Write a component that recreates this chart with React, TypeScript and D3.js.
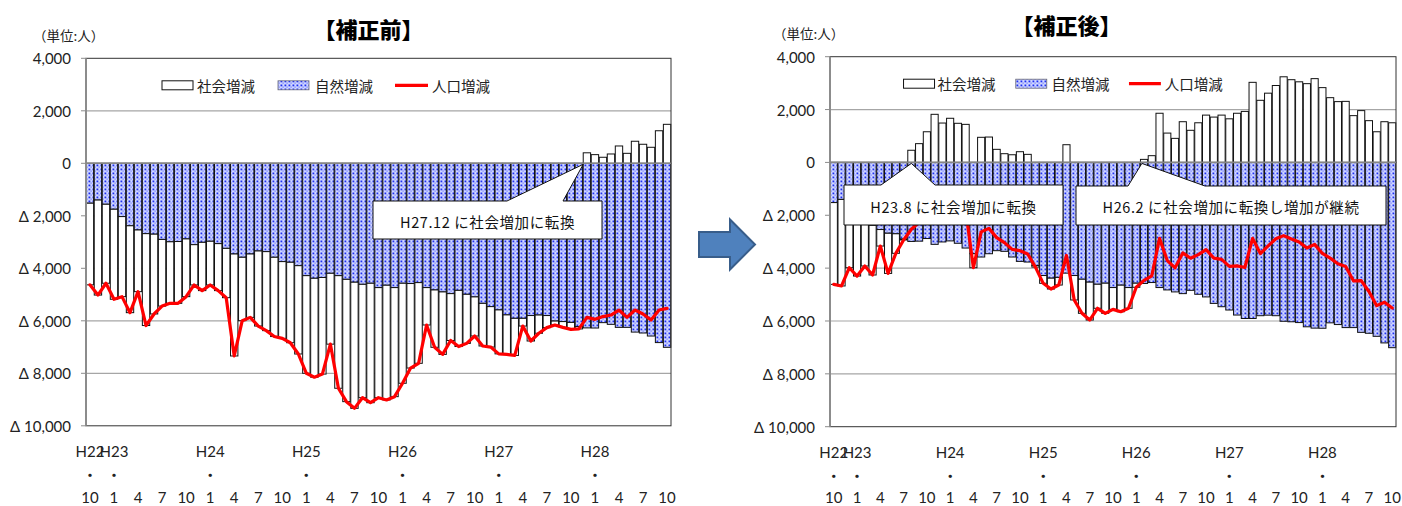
import React from 'react';
import * as d3 from 'd3';

// ---- DATA ----
const categories = [
  "H22.10","H22.11","H22.12",
  "H23.1","H23.2","H23.3","H23.4","H23.5","H23.6","H23.7","H23.8","H23.9","H23.10","H23.11","H23.12",
  "H24.1","H24.2","H24.3","H24.4","H24.5","H24.6","H24.7","H24.8","H24.9","H24.10","H24.11","H24.12",
  "H25.1","H25.2","H25.3","H25.4","H25.5","H25.6","H25.7","H25.8","H25.9","H25.10","H25.11","H25.12",
  "H26.1","H26.2","H26.3","H26.4","H26.5","H26.6","H26.7","H26.8","H26.9","H26.10","H26.11","H26.12",
  "H27.1","H27.2","H27.3","H27.4","H27.5","H27.6","H27.7","H27.8","H27.9","H27.10","H27.11","H27.12",
  "H28.1","H28.2","H28.3","H28.4","H28.5","H28.6","H28.7","H28.8","H28.9","H28.10",
];

// 自然増減 (same in both panels)
const naturalChange = [
  -1520,-1400,-1560,-1750,-2030,-2380,-2540,-2680,-2700,-2900,
  -2990,-2980,-2880,-3100,-3010,-2970,-3060,-3240,-3455,-3580,
  -3455,-3340,-3365,-3580,-3745,-3770,-3900,-4280,-4380,-4350,
  -4190,-4280,-4420,-4530,-4610,-4570,-4735,-4645,-4735,-4570,
  -4580,-4545,-4735,-4825,-4900,-4965,-4840,-4990,-5090,-5335,
  -5460,-5585,-5775,-5905,-5905,-5800,-5780,-5800,-6010,-6030,
  -6060,-6220,-6270,-6275,-6070,-6135,-6250,-6250,-6430,-6465,
  -6580,-6830,-7010,
];

// 補正前 社会増減
const socialBefore = [
  -3110,-3620,-3010,-3430,-3050,-3310,-2350,-3500,-3040,-2540,
  -2345,-2355,-2200,-1535,-1840,-1665,-1790,-1880,-3885,-2415,
  -2415,-2860,-3010,-3020,-2925,-3065,-3365,-3720,-3770,-3680,
  -2700,-4290,-4660,-4805,-4320,-4550,-4195,-4370,-4155,-3810,
  -3220,-3075,-1425,-2185,-2380,-1785,-2140,-1870,-1490,-1625,
  -1540,-1675,-1505,-1415,-295,-970,-695,-460,-150,-220,
  -265,-90,400,330,230,355,660,380,840,725,
  610,1240,1485,
];

// 補正前 人口増減
const totalBefore = [
  -4630,-5020,-4570,-5180,-5080,-5690,-4890,-6180,-5740,-5440,
  -5335,-5335,-5080,-4635,-4850,-4635,-4850,-5120,-7340,-5995,
  -5870,-6200,-6375,-6600,-6670,-6835,-7265,-8000,-8150,-8030,
  -6890,-8570,-9080,-9335,-8930,-9120,-8930,-9015,-8890,-8380,
  -7800,-7620,-6160,-7010,-7280,-6750,-6980,-6860,-6580,-6960,
  -7000,-7260,-7280,-7320,-6200,-6770,-6475,-6260,-6160,-6250,
  -6325,-6310,-5870,-5945,-5840,-5780,-5590,-5870,-5590,-5740,
  -5970,-5590,-5525,
];

// 補正後 社会増減
const socialAfter = [
  -3095,-3275,-2425,-2550,-1890,-1880,-625,-1520,-740,-35,
  460,710,1160,1820,1490,1670,1480,1440,-530,950,
  960,495,330,290,405,305,-60,-295,-410,-290,
  670,-925,-1290,-1435,-910,-1140,-825,-1005,-785,-155,
  115,255,1860,1110,910,1540,1215,1500,1790,1715,
  1790,1650,1860,1930,3030,2350,2620,2910,3240,3130,
  3050,2980,3170,2830,2450,2300,2310,1770,1960,1580,
  1160,1540,1500,
];

// 補正後 人口増減
const totalAfter = [
  -4615,-4675,-3985,-4300,-3920,-4260,-3165,-4200,-3440,-2935,
  -2530,-2270,-1720,-1280,-1520,-1300,-1580,-1800,-3985,-2630,
  -2495,-2845,-3035,-3290,-3340,-3465,-3960,-4575,-4790,-4640,
  -3520,-5205,-5710,-5965,-5520,-5710,-5560,-5650,-5520,-4725,
  -4465,-4290,-2875,-3715,-3990,-3425,-3625,-3490,-3300,-3620,
  -3670,-3935,-3915,-3975,-2875,-3450,-3160,-2890,-2770,-2900,
  -3010,-3240,-3100,-3445,-3620,-3835,-3940,-4480,-4470,-4885,
  -5420,-5290,-5510,
];

const yTicks = [4000, 2000, 0, -2000, -4000, -6000, -8000, -10000];
const legendLabels = ["社会増減", "自然増減", "人口増減"];
const unitLabel = "（単位:人）";

const LATIN = "Lato, 'Open Sans', 'Liberation Sans', sans-serif";
const JP = "'Noto Sans CJK JP', 'Noto Sans', sans-serif";

type Callout = {
  left: number; right: number; top: number; bottom: number;
  baseL: number; baseR: number; tipIndex: number; tipFrac: number; text: string;
};

type PanelProps = {
  id: string;
  x0: number; x1: number; yTop: number; yBottom: number;
  title: string; titleX: number; titleY: number;
  unitX: number; unitY: number;
  social: number[]; total: number[];
  callouts: Callout[];
};

function fmt(v: number) {
  const f = d3.format(",");
  return v < 0 ? "Δ " + f(-v) : f(v);
}

function Panel(p: PanelProps) {
  const x = d3.scaleBand<string>().domain(categories).range([p.x0, p.x1]).paddingInner(0.08).paddingOuter(0.03);
  const y = d3.scaleLinear().domain([-10000, 4000]).range([p.yBottom, p.yTop]);
  const bw = x.bandwidth();
  const w = p.x1 - p.x0;
  const sx = w / 585;
  const line = d3.line<number>()
    .x((_, i) => (x(categories[i]) as number) + bw / 2)
    .y((d) => y(d));

  const legY = p.yTop + 27;
  const lx = (v: number) => p.x0 + v * sx;

  return (
    <g>
      {/* title + unit */}
      <text x={p.titleX} y={p.titleY} textAnchor="middle" dominantBaseline="central"
        fontFamily={JP} fontWeight={900} fontSize={22}>{p.title}</text>
      <text x={p.unitX} y={p.unitY} dominantBaseline="central" fontFamily={JP} fontSize={13.5} fill="#222">{unitLabel}</text>

      {/* gridlines */}
      {yTicks.filter((t) => t < 4000 && t > -10000).map((t) => (
        <line key={t} x1={p.x0} x2={p.x1} y1={y(t)} y2={y(t)} stroke="#a6a6a6" strokeWidth={1.2} />
      ))}

      {/* bars */}
      {categories.map((c, i) => {
        const bx = x(c) as number;
        const n = naturalChange[i];
        const s = p.social[i];
        const sTop = s < 0 ? y(n) : y(s);
        const sBot = s < 0 ? y(n + s) : y(0);
        return (
          <g key={c}>
            <rect x={bx} y={y(0)} width={bw} height={y(n) - y(0)} fill={`url(#dots-${p.id})`} stroke="#111" strokeWidth={1} />
            {Math.abs(sBot - sTop) > 0.3 && (
              <rect x={bx} y={sTop} width={bw} height={sBot - sTop} fill="#fff" stroke="#111" strokeWidth={1} />
            )}
          </g>
        );
      })}

      {/* plot frame */}
      <rect x={p.x0} y={p.yTop} width={w} height={p.yBottom - p.yTop} fill="none" stroke="#333" strokeWidth={1} />
      <line x1={p.x0} x2={p.x0} y1={p.yTop} y2={p.yBottom} stroke="#8c8c8c" strokeWidth={2} />
      <line x1={p.x0} x2={p.x1} y1={y(0)} y2={y(0)} stroke="#868686" strokeWidth={1.6} />

      {/* y axis ticks + labels */}
      {yTicks.map((t) => (
        <g key={t}>
          <line x1={p.x0 - 5} x2={p.x0} y1={y(t)} y2={y(t)} stroke="#8c8c8c" strokeWidth={1} />
          <text x={p.x0 - 15} y={y(t)} textAnchor="end" dominantBaseline="central" fontFamily={LATIN} fontSize={15} fill="#222">
            {fmt(t)}
          </text>
        </g>
      ))}

      {/* x labels */}
      {categories.map((c, i) => {
        const [yr, mo] = c.split(".");
        const cx = (x(c) as number) + bw / 2;
        const showYear = i === 0 || mo === "1";
        return (
          <g key={"xl" + c}>
            {showYear && (
              <text x={cx} y={p.yBottom + 25} textAnchor="middle" dominantBaseline="central" fontFamily={LATIN} fontSize={15} fill="#222">{yr}</text>
            )}
            {showYear && (
              <text x={cx} y={p.yBottom + 49} textAnchor="middle" dominantBaseline="central" fontFamily={JP} fontSize={13} fontWeight={700} fill="#222">・</text>
            )}
            {i % 3 === 0 && (
              <text x={cx} y={496.5} textAnchor="middle" dominantBaseline="central" fontFamily={LATIN} fontSize={15} fill="#222">{mo}</text>
            )}
          </g>
        );
      })}

      {/* population line */}
      <path d={line(p.total) || ""} fill="none" stroke="#ff0000" strokeWidth={3.2} strokeLinejoin="round" strokeLinecap="round" />

      {/* legend */}
      <rect x={lx(76)} y={legY - 4.5} width={31} height={9} fill="#fff" stroke="#111" strokeWidth={1} />
      <text x={lx(111)} y={legY} dominantBaseline="central" fontFamily={JP} fontSize={14.5} fill="#222">{legendLabels[0]}</text>
      <rect x={lx(192)} y={legY - 4.5} width={31} height={9} fill={`url(#dots-${p.id})`} stroke="#667" strokeWidth={0.8} />
      <text x={lx(229)} y={legY} dominantBaseline="central" fontFamily={JP} fontSize={14.5} fill="#222">{legendLabels[1]}</text>
      <line x1={lx(309)} x2={lx(342)} y1={legY} y2={legY} stroke="#ff0000" strokeWidth={3.2} />
      <text x={lx(346)} y={legY} dominantBaseline="central" fontFamily={JP} fontSize={14.5} fill="#222">{legendLabels[2]}</text>

      {/* callouts */}
      {p.callouts.map((co, k) => {
        const tx = (x(categories[co.tipIndex]) as number) + bw * co.tipFrac;
        const ty = y(0) + 1;
        const d = `M${co.left},${co.top} L${co.baseL},${co.top} L${tx},${ty} L${co.baseR},${co.top} L${co.right},${co.top} L${co.right},${co.bottom} L${co.left},${co.bottom} Z`;
        return (
          <g key={k}>
            <path d={d} fill="#fff" stroke="#111" strokeWidth={1} />
            <text x={(co.left + co.right) / 2} y={(co.top + co.bottom) / 2 + 1} textAnchor="middle" dominantBaseline="central"
              fontFamily={JP} fontSize={14.5} letterSpacing={0.6} fill="#111">{co.text}</text>
          </g>
        );
      })}
    </g>
  );
}

export default function App() {
  const patterns = ["before", "after"];
  return (
    <div style={{ position: "absolute", left: 0, top: 0 }}>
      <svg width={1402} height={506} style={{ display: "block", background: "#fff" }}>
        <defs>
          {patterns.map((id) => (
            <pattern key={id} id={`dots-${id}`} width={4} height={4} patternUnits="userSpaceOnUse">
              <rect width={4} height={4} fill="#cfd5ff" />
              <rect x={0.5} y={0.5} width={1.8} height={1.8} fill="#1e2ff2" />
              <rect x={2.5} y={2.5} width={1.2} height={1.2} fill="#6a78ff" />
            </pattern>
          ))}
        </defs>
        <Panel
          id="before" x0={86} x1={671} yTop={58.3} yBottom={425.8}
          title="【補正前】" titleX={368.5} titleY={28}
          unitX={33} unitY={34.5}
          social={socialBefore} total={totalBefore}
          callouts={[
            { left: 373, right: 602, top: 201, bottom: 239, baseL: 507, baseR: 563, tipIndex: 62, tipFrac: 0, text: "H27.12 に社会増加に転換" },
          ]}
        />
        <Panel
          id="after" x0={830} x1={1396} yTop={56.7} yBottom={426.7}
          title="【補正後】" titleX={1066.5} titleY={23.5}
          unitX={773} unitY={33}
          social={socialAfter} total={totalAfter}
          callouts={[
            { left: 844, right: 1063, top: 185, bottom: 225, baseL: 881, baseR: 935, tipIndex: 10, tipFrac: 0.5, text: "H23.8 に社会増加に転換" },
            { left: 1076, right: 1386, top: 186, bottom: 225, baseL: 1128, baseR: 1205, tipIndex: 40, tipFrac: 0.2, text: "H26.2 に社会増加に転換し増加が継続" },
          ]}
        />
        {/* arrow between panels */}
        <path d="M699,232 L730,232 L730,219.5 L755,244.5 L730,269.5 L730,257 L699,257 Z" fill="#4f81bd" stroke="#385d8a" strokeWidth={2} />
      </svg>
    </div>
  );
}
